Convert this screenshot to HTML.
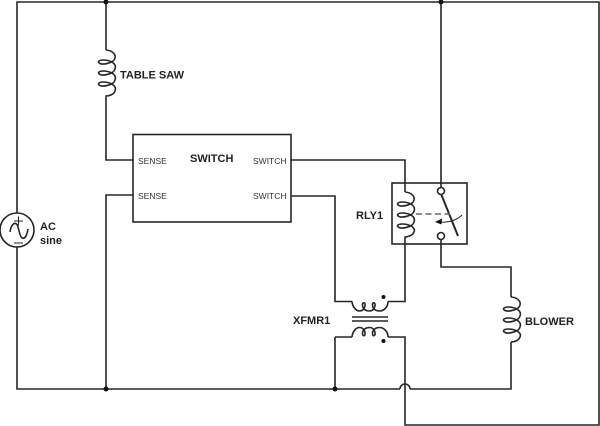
<!DOCTYPE html>
<html><head><meta charset="utf-8"><style>
html,body{margin:0;padding:0;background:#fff}
svg{display:block}
text{font-family:"Liberation Sans",sans-serif;fill:#222}
.b{font-weight:bold;font-size:11px}
.s{font-size:8.5px;fill:#333}
</style></head><body>
<svg width="600" height="426" viewBox="0 0 600 426" xmlns="http://www.w3.org/2000/svg">
<g fill="none" stroke="#262626" stroke-width="1.6">
<!-- top and right rails -->
<path d="M17 213V2H599V425H405V337H388"/>
<path d="M17 247V389H400M410 389H511V342"/>
<path d="M400 389A5 5 0 0 1 410 389"/>
<!-- table saw -->
<path d="M106 2V50"/>
<path d="M106 50C112 50.500 116 54 115 58C114 63 103 65 100 63.500C97 62 99 60 103 60C111 60 117 64 115 69C114 74 103 76 100 74.500C97 73 99 71 103 71C111 71 117 75 115 80C114 85 103 87 100 85.500C97 84 99 82 103 82C111 82 117 86 115 91C114 94 110 96 106 96V160H133"/>
<path d="M133 195H106V389"/>
<!-- switch box -->
<rect x="133" y="134.500" width="158" height="87.500"/>
<path d="M291 160H405V192"/>
<path d="M291 196H335V301.500H352"/>
<path d="M335 337H352M335 337V389"/>
<!-- relay -->
<rect x="392" y="183" width="75" height="61"/>
<path d="M405 192C411 192.500 415 196 414 200C413 205 402 207 399 205.500C396 204 398 202 402 202C410 202 416 206 414 211C413 216 402 218 399 216.500C396 215 398 213 402 213C410 213 416 217 414 222C413 227 402 229 399 227.500C396 226 398 224 402 224C410 224 416 228 414 232C413 235 409 236.500 405 237V301.500H388"/>
<path d="M441 2V187"/>
<circle cx="441" cy="191" r="3.500"/>
<circle cx="441" cy="236" r="3.500"/>
<path d="M441.500 195L458 236" stroke-width="2"/>
<path d="M416 214H450" stroke-dasharray="6 3.500" stroke="#666"/>
<path d="M462 215C456 221 448 223 437 222" stroke-width="1"/>
<path d="M441 239.500V267H511V297"/>
<!-- blower -->
<path d="M511 297C517 297.500 521 301 520 305C519 310 508 312 505 310.500C502 309 504 307 508 307C516 307 522 311 520 316C519 321 508 323 505 321.500C502 320 504 318 508 318C516 318 522 322 520 327C519 332 508 334 505 332.500C502 331 504 329 508 329C516 329 522 333 520 337C519 340 515 342 511 342"/>
<!-- transformer -->
<path d="M352 301.500C352.500 307 356 311 359.500 311C363.500 311 365.500 307 365 304C364.500 302 362.500 302.500 362.500 305C362.500 309 366 311 369.500 311C373.500 311 375.500 307 375 304C374.500 302 372.500 302.500 372.500 305C372.500 309 376 311 379.500 311C384 311 388 307 388 301.500"/>
<path d="M352 337C352.500 331.500 356 327.500 359.500 327.500C363.500 327.500 365.500 331.500 365 334.500C364.500 336.500 362.500 336 362.500 333.500C362.500 329.500 366 327.500 369.500 327.500C373.500 327.500 375.500 331.500 375 334.500C374.500 336.500 372.500 336 372.500 333.500C372.500 329.500 376 327.500 379.500 327.500C384 327.500 388 331.500 388 337"/>
<path d="M352 317H388M352 321H388"/>
<!-- source -->
<circle cx="17" cy="230" r="17"/>
<path d="M10 232C11 225 14 222 16.500 224C19 226 19 236 22 238C25 239.500 27 235 28 229"/>
<path d="M14 221H23M18.500 216.500V225.500M14 243H23" stroke-width="1.100"/>
</g>
<g fill="#111">
<circle cx="106" cy="2" r="2.500"/>
<circle cx="441" cy="2" r="2.500"/>
<circle cx="106" cy="389" r="2.500"/>
<circle cx="335" cy="389" r="2.500"/>
<circle cx="383.500" cy="297" r="2"/>
<circle cx="383.500" cy="341" r="2"/>
<path d="M435 222L442 218.500L441.500 224.500Z"/>
</g>
<text class="b" x="120" y="78.500">TABLE SAW</text>
<text class="b" x="190" y="162">SWITCH</text>
<text class="s" x="138" y="164">SENSE</text>
<text class="s" x="138" y="199">SENSE</text>
<text class="s" x="253" y="164">SWITCH</text>
<text class="s" x="253" y="199">SWITCH</text>
<text class="b" x="356" y="219">RLY1</text>
<text class="b" x="293" y="324">XFMR1</text>
<text class="b" x="525" y="325">BLOWER</text>
<text class="b" x="40" y="230">AC</text>
<text class="b" x="40" y="244">sine</text>
</svg>
</body></html>
